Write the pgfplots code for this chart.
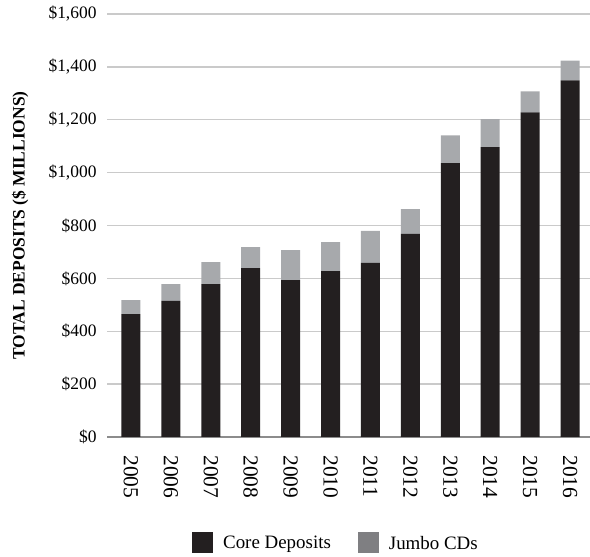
\documentclass[border=0pt]{standalone}
\usepackage{fontspec}
\setmainfont{Liberation Serif}
\usepackage{pgfplots}
\pgfplotsset{compat=1.18}
\definecolor{core}{HTML}{231F20}
\definecolor{jumbo}{HTML}{A7A9AC}
\definecolor{jumboleg}{HTML}{7F7F82}
\definecolor{gridc}{HTML}{CACACA}
\definecolor{basec}{HTML}{8C8C8C}
\pgfplotsset{
  legsq/.style={legend image code/.code={\fill[##1] (0bp,-10bp) rectangle (21bp,11bp);}}
}
\begin{document}
\begin{tikzpicture}[x=1bp,y=1bp]
\path[use as bounding box] (0,0) rectangle (590,557);
\begin{axis}[
  at={(107bp,120bp)}, anchor=south west,
  scale only axis, width=483bp, height=423bp,
  ybar stacked, bar width=19bp,
  xmin=-0.6, xmax=11.5, ymin=0, ymax=1600,
  axis x line*=bottom, axis y line*=left,
  y axis line style={draw=none},
  x axis line style={basec, line width=1.4bp},
  major tick length=0pt,
  ymajorgrids, grid style={gridc, line width=1.4bp},
  xtick={0,...,11},
  xticklabels={2005,2006,2007,2008,2009,2010,2011,2012,2013,2014,2015,2016},
  xticklabel style={rotate=-90, anchor=west, font=\fontsize{21.5}{24}\selectfont},
  xticklabel shift=15bp,
  ytick={0,200,...,1600},
  yticklabels={\$0,\$200,\$400,\$600,\$800,{\$1,000},{\$1,200},{\$1,400},{\$1,600}},
  yticklabel style={font=\fontsize{17.5}{20}\selectfont},
  yticklabel shift=7bp,
  ylabel={TOTAL DEPOSITS (\$ MILLIONS)},
  ylabel style={font=\fontsize{17.5}{20}\selectfont\bfseries, at={(axis description cs:-0.18,0.5)}, anchor=center},
  legend style={at={(0.474,-0.25)}, anchor=center, legend columns=2, draw=none,
    font=\fontsize{19}{22}\selectfont,
    /tikz/every odd column/.append style={column sep=8bp},
    /tikz/every even column/.append style={column sep=25bp}},
]
\addlegendimage{legsq, fill=core, draw=none}
\addlegendimage{legsq, fill=jumboleg, draw=none}
\addplot[fill=core, draw=none] coordinates {
  (0,465) (1,515) (2,578) (3,639) (4,593) (5,627)
  (6,659) (7,768) (8,1036) (9,1096) (10,1228) (11,1349)
};
\addplot[fill=jumbo, draw=none] coordinates {
  (0,53) (1,63) (2,83) (3,79) (4,114) (5,110)
  (6,121) (7,94) (8,105) (9,106) (10,79) (11,75)
};
\legend{Core Deposits, Jumbo CDs}
\end{axis}
\end{tikzpicture}
\end{document}
